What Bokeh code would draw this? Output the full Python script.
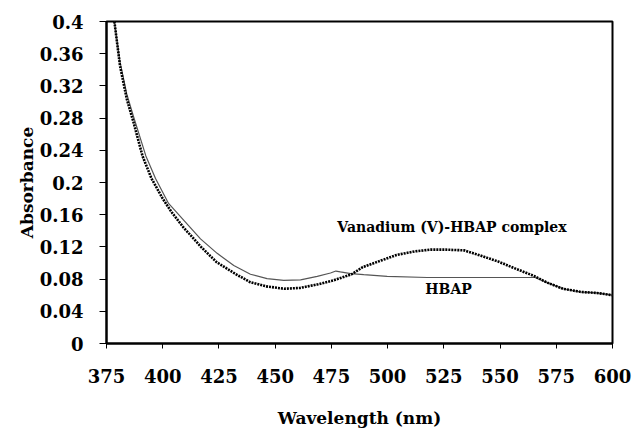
from bokeh.plotting import figure
from bokeh.models import FixedTicker, Range1d
from bokeh.core.properties import value
from bokeh.embed import file_html
from bokeh.resources import INLINE

# Vanadium (V)-HBAP complex (dotted)
complex_wl = [378.5, 381, 384, 387, 391, 395, 400, 404, 409, 417, 424, 432, 439, 446, 454,
              461, 469, 476, 484, 489, 497, 504, 512, 519, 526, 534, 541, 549, 556, 565,
              571, 578, 586, 593, 600]
complex_abs = [0.40, 0.345, 0.304, 0.275, 0.233, 0.205, 0.180, 0.163, 0.145, 0.120, 0.101,
               0.087, 0.076, 0.071, 0.068, 0.069, 0.0735, 0.0785, 0.086, 0.095, 0.103, 0.110,
               0.1144, 0.1166, 0.1166, 0.1157, 0.1095, 0.102, 0.094, 0.084, 0.0756, 0.068,
               0.064, 0.0628, 0.060]

# HBAP (thin solid)
hbap_wl = [378.5, 381, 384, 387, 392.5, 396.8, 402.6, 409.4, 416.8, 424.2, 431.6, 439, 446.4,
           453.8, 461.3, 468.7, 474.6, 477, 479, 483.6, 489.4, 499.8, 517.6, 539.8, 565.5,
           571, 578, 586, 593, 600]
hbap_abs = [0.40, 0.35, 0.31, 0.282, 0.233, 0.205, 0.174, 0.153, 0.130, 0.112, 0.097, 0.086,
            0.0806, 0.0785, 0.079, 0.0834, 0.0876, 0.090, 0.089, 0.0868, 0.0855, 0.0834,
            0.082, 0.082, 0.082, 0.0756, 0.068, 0.064, 0.0628, 0.060]

x_ticks = [375, 400, 425, 450, 475, 500, 525, 550, 575, 600]
y_ticks = [0, 0.04, 0.08, 0.12, 0.16, 0.2, 0.24, 0.28, 0.32, 0.36, 0.4]
y_tick_labels = ["0", "0.04", "0.08", "0.12", "0.16", "0.2", "0.24", "0.28", "0.32", "0.36", "0.4"]

labels_text = ["Vanadium (V)-HBAP complex", "HBAP"]
labels_x = [528.6, 527.1]
labels_y = [0.1446, 0.068]

FONT = "DejaVu Serif"

p = figure(width=633, height=430, output_backend="svg", toolbar_location=None,
           x_range=Range1d(375, 600), y_range=Range1d(0, 0.4),
           min_border_left=106, min_border_right=21, min_border_top=21, min_border_bottom=87)

p.line(hbap_wl, hbap_abs, line_color="#555555", line_width=1.2)
p.line(complex_wl, complex_abs, line_color="black", line_width=2.6, line_dash="2 1")

p.text(x=labels_x, y=labels_y, text=labels_text, text_font=value(FONT),
       text_font_style="bold", text_font_size="14px", text_align="center",
       text_baseline="middle", text_color="black")

p.xgrid.visible = False
p.ygrid.visible = False
p.outline_line_color = "black"
p.outline_line_width = 2
p.background_fill_color = "white"
p.border_fill_color = "white"

for ax in (p.xaxis[0], p.yaxis[0]):
    ax.axis_line_width = 2
    ax.axis_line_color = "black"
    ax.major_tick_line_color = "black"
    ax.major_tick_line_width = 1
    ax.major_tick_in = 0
    ax.major_tick_out = 7
    ax.minor_tick_line_color = None
    ax.major_label_text_font = FONT
    ax.major_label_text_font_style = "bold"
    ax.major_label_text_font_size = "18px"
    ax.major_label_text_color = "black"
    ax.axis_label_text_font = FONT
    ax.axis_label_text_font_style = "bold"
    ax.axis_label_text_font_size = "17px"
    ax.axis_label_text_color = "black"

p.xaxis.ticker = FixedTicker(ticks=x_ticks)
p.yaxis.ticker = FixedTicker(ticks=y_ticks)
p.yaxis.major_label_overrides = {t: l for t, l in zip(y_ticks, y_tick_labels)}
p.xaxis.major_tick_out = 5
p.xaxis.major_label_standoff = 20
p.yaxis.major_label_standoff = 16
p.xaxis.axis_label = "Wavelength (nm)"
p.yaxis.axis_label = "Absorbance"
p.xaxis.axis_label_standoff = 22
p.yaxis.axis_label_standoff = 0

open("out.html", "w").write(file_html(p, INLINE))
